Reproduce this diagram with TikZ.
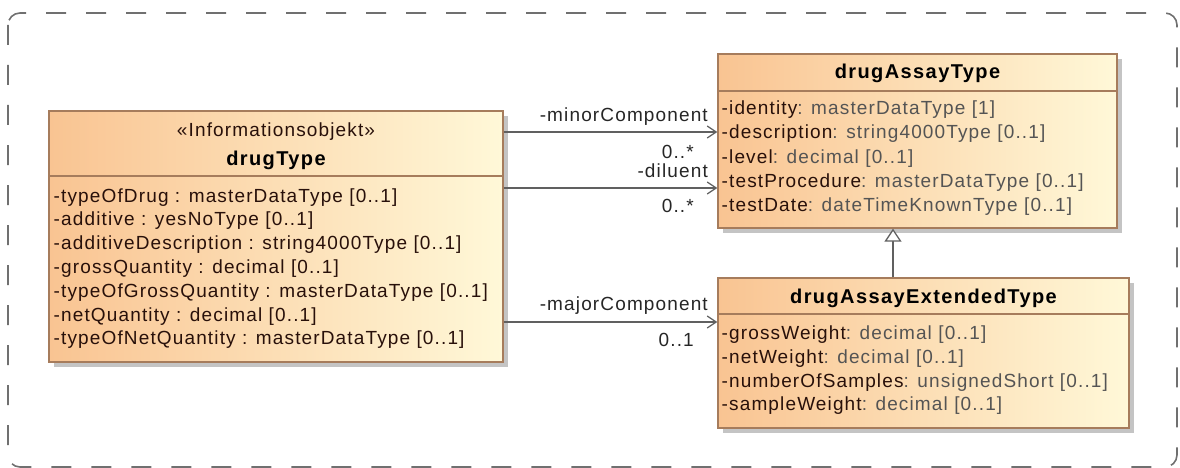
\documentclass[tikz,border=0pt]{standalone}
\usepackage{fontspec}
\setmainfont{Liberation Sans}
\newfontfamily\lsfont[LetterSpace=6]{Liberation Sans}
\newfontfamily\tlfont[LetterSpace=7]{Liberation Sans}
\usetikzlibrary{arrows.meta,shadows}
\definecolor{boxL}{RGB}{249,196,146}
\definecolor{boxR}{RGB}{255,248,216}
\definecolor{boxB}{RGB}{166,124,92}
\definecolor{shadowc}{RGB}{196,196,196}
\definecolor{namec}{RGB}{40,16,10}
\definecolor{typec}{RGB}{84,84,84}
\definecolor{linec}{RGB}{96,96,96}
\definecolor{framec}{RGB}{112,112,112}
\newcommand{\attrline}[2]{{\color{namec}#1}{\color{typec} : #2}}
\tikzset{
  umlbox/.style={rectangle, draw=boxB, line width=1.3pt, left color=boxL, right color=boxR,
    drop shadow={shadow xshift=5pt, shadow yshift=-5pt, fill=shadowc, opacity=1}, inner sep=0pt},
  sepline/.style={draw=boxB, line width=1.3pt},
  attr/.style={anchor=base west, inner sep=0pt, text=namec, font=\lsfont\fontsize{19}{23}\selectfont},
  title/.style={anchor=base, inner sep=0pt, text=black, font=\tlfont\bfseries\fontsize{20}{24}\selectfont},
  stereo/.style={anchor=base, inner sep=0pt, text=namec, font=\lsfont\fontsize{19}{23}\selectfont},
  rolelbl/.style={anchor=base east, inner sep=0pt, text=black!85, font=\lsfont\fontsize{19}{23}\selectfont},
  assoc/.style={draw=linec, line width=1.4pt, -{Straight Barb[length=9pt,width=12pt,line width=1.3pt]}},
  gen/.style={draw=linec, line width=1.4pt, -{Triangle[open,length=13pt,width=17pt,line width=1.3pt,fill=white]}},
  frame/.style={draw=framec, line width=1.6pt, dash pattern=on 20pt off 20pt, rounded corners=12pt}
}
\begin{document}
\begin{tikzpicture}[x=1pt,y=-1pt]
\useasboundingbox (0,0) rectangle (1180,468);
\draw[frame] (8,13) rectangle (1177,467);

% drugType
\node[umlbox, minimum width=454pt, minimum height=251pt] (dt) at (276,236.5) {};
\draw[sepline] (49,176) -- (503,176);
\node[stereo] (dtst) at (276,136) {«Informationsobjekt»};
\node[title] (dtt) at (276,165) {drugType};
\node[attr] (dt1) at (53.5,202) {-typeOfDrug : masterDataType [0..1]};
\node[attr] (dt2) at (53.5,225.8) {-additive : yesNoType [0..1]};
\node[attr] (dt3) at (53.5,249.6) {-additiveDescription : string4000Type [0..1]};
\node[attr] (dt4) at (53.5,273.4) {-grossQuantity : decimal [0..1]};
\node[attr] (dt5) at (53.5,297.2) {-typeOfGrossQuantity : masterDataType [0..1]};
\node[attr] (dt6) at (53.5,321) {-netQuantity : decimal [0..1]};
\node[attr] (dt7) at (53.5,344.8) {-typeOfNetQuantity : masterDataType [0..1]};

% drugAssayType
\node[umlbox, minimum width=399pt, minimum height=174pt] (da) at (917.5,141) {};
\draw[sepline] (718,91) -- (1117,91);
\node[title] (dat) at (917.5,79) {drugAssayType};
\node[attr] (da1) at (721.5,115) {\attrline{-identity}{masterDataType [1]}};
\node[attr] (da2) at (721.5,139) {\attrline{-description}{string4000Type [0..1]}};
\node[attr] (da3) at (721.5,163) {\attrline{-level}{decimal [0..1]}};
\node[attr] (da4) at (721.5,187) {\attrline{-testProcedure}{masterDataType [0..1]}};
\node[attr] (da5) at (721.5,211) {\attrline{-testDate}{dateTimeKnownType [0..1]}};

% drugAssayExtendedType
\node[umlbox, minimum width=411pt, minimum height=150pt] (dx) at (923.5,353) {};
\draw[sepline] (718,314) -- (1129,314);
\node[title] (dxt) at (923.5,303) {drugAssayExtendedType};
\node[attr] (dx1) at (721.5,339) {\attrline{-grossWeight}{decimal [0..1]}};
\node[attr] (dx2) at (721.5,363) {\attrline{-netWeight}{decimal [0..1]}};
\node[attr] (dx3) at (721.5,387) {\attrline{-numberOfSamples}{unsignedShort [0..1]}};
\node[attr] (dx4) at (721.5,410.5) {\attrline{-sampleWeight}{decimal [0..1]}};

% connectors
\coordinate (y1) at (0,132);
\coordinate (y2) at (0,188);
\coordinate (y3) at (0,322);
\coordinate (gx) at (893,0);
\draw[assoc] (dt.east |- y1) -- (da.west |- y1);
\draw[assoc] (dt.east |- y2) -- (da.west |- y2);
\draw[assoc] (dt.east |- y3) -- (dx.west |- y3);
\draw[gen] (dx.north -| gx) -- (da.south -| gx);

\node[rolelbl] (r1) at (708,122) {-minorComponent};
\node[rolelbl] (m1) at (694,158) {0..*};
\node[rolelbl] (r2) at (708,177) {-diluent};
\node[rolelbl] (m2) at (694,212) {0..*};
\node[rolelbl] (r3) at (708,310) {-majorComponent};
\node[rolelbl] (m3) at (694,346) {0..1};
\end{tikzpicture}
\end{document}
